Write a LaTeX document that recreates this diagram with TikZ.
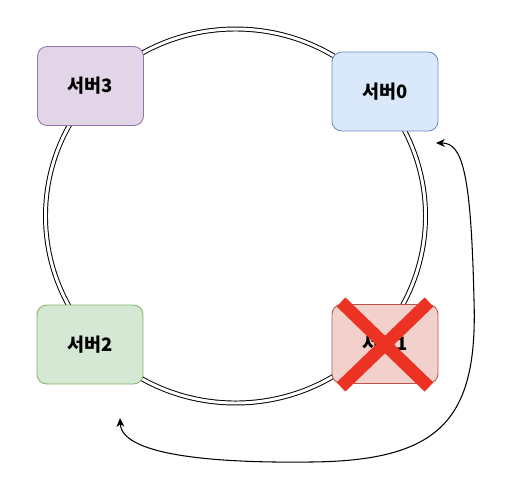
\documentclass[tikz,border=0pt]{standalone}
\usepackage{fontspec}
\setmainfont{Noto Sans CJK KR}
\usetikzlibrary{arrows.meta}
\definecolor{xred}{RGB}{236,51,35}
\tikzset{
  srvnode/.style={rectangle,draw,rounded corners=5.5pt,minimum width=2.12cm,minimum height=1.58cm,inner sep=0pt,line width=0.5pt,font=\fontsize{10.5}{12}\selectfont\bfseries},
  ringline/.style={draw=black,double=white,line width=0.55pt,double distance=1.7pt},
  xmark/.style={draw=xred,line width=7.2pt,line cap=butt},
  every picture/.style={line cap=round,line join=round}
}
\begin{document}
\begin{tikzpicture}[x=0.02cm,y=-0.02cm]
    \useasboundingbox (0,0) rectangle (507,488);
    \draw[ringline] (235.5,216) ellipse [x radius=190,y radius=187];
    \node[srvnode,draw={rgb,255:red,150;green,115;blue,166},fill={rgb,255:red,225;green,213;blue,231}] (s3) at (90.5,86) {서버3};
    \node[srvnode,draw={rgb,255:red,108;green,142;blue,191},fill={rgb,255:red,218;green,232;blue,252}] (s0) at (385,91.5) {서버0};
    \node[srvnode,draw={rgb,255:red,130;green,179;blue,102},fill={rgb,255:red,213;green,232;blue,212}] (s2) at (90,344.5) {서버2};
    \node[srvnode,draw={rgb,255:red,184;green,84;blue,80},fill={rgb,255:red,242;green,208;blue,204}] (s1) at (385,344) {서버1};
    \draw[xmark] (341,302) -- (429,387) (429,302) -- (341,387);
    \coordinate (e0) at (436,143);
    \coordinate (e2) at (120,418);
    \draw[line width=0.6pt,{Stealth[length=5pt,width=4.5pt,inset=1.5pt]}-{Stealth[length=5pt,width=4.5pt,inset=1.5pt]}]
      (e2) .. controls (122,458) and (230,463) .. (310,462)
      .. controls (440,461) and (478,420) .. (474,300)
      .. controls (471,170) and (462,143) .. (e0);
\end{tikzpicture}
\end{document}
